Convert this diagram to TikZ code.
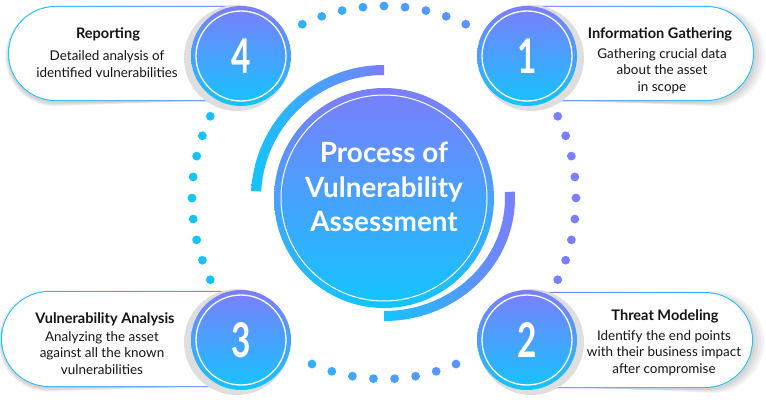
\documentclass[tikz,border=0pt]{standalone}
\usepackage{fontspec}
\setmainfont{Lato}
\usepackage{graphicx}
\usepackage{tikz}
\usetikzlibrary{positioning}

\definecolor{vpurple}{HTML}{7C7EFD}
\definecolor{vcyan}{HTML}{12C5FD}
\definecolor{txtdark}{HTML}{141414}

% pill rounded on the west side: left x, mid y, right x, half height
\newcommand{\pillW}[4]{(#3,{#2+#4}) -- ({#1+#4},{#2+#4}) arc (90:270:#4) -- (#3,{#2-#4}) -- cycle}
% pill rounded on the east side: left x, mid y, right x, half height
\newcommand{\pillE}[4]{(#1,{#2+#4}) -- ({#3-#4},{#2+#4}) arc (90:-90:#4) -- (#1,{#2-#4}) -- cycle}

\tikzset{
  numdisc/.style={circle,minimum size=100bp,inner sep=0pt,top color=vpurple,bottom color=vcyan,
    text=white,font=\bfseries\fontsize{48}{48}\selectfont},
  coredisc/.style={circle,minimum size=220bp,inner sep=0pt,top color=vpurple,bottom color=vcyan},
  ring/.style={draw=white,line width=1.3bp},
  discshadow/.style={fill=black!13},
  pillshadow/.style={fill=black,opacity=0.045},
  ttl/.style={text=txtdark,font=\bfseries\fontsize{14.6}{17}\selectfont},
  dsc/.style={text=txtdark,align=center,font=\fontsize{13.5}{16.5}\selectfont},
  coretxt/.style={align=center,font=\bfseries\fontsize{28}{34.5}\selectfont}
}

\begin{document}
\begin{tikzpicture}[x=1bp,y=1bp]
\useasboundingbox (0,0) rectangle (766,403);
\fill[white] (0,0) rectangle (766,403);

% pills
\foreach \s in {1,...,4}{
  \fill[pillshadow] \pillW{9-\s}{347}{241}{46.5+\s};
  \fill[pillshadow] \pillE{527}{347}{753+\s}{46.5+\s};
  \fill[pillshadow] \pillW{2-\s}{62}{241}{47+\s};
  \fill[pillshadow] \pillE{527}{61}{752+\s}{47+\s};
}
\shade[left color=vcyan,right color=vpurple] \pillW{8}{349.5}{241}{47.5};
\fill[white] \pillW{9}{349.5}{241}{46.5};
\shade[left color=vpurple,right color=vcyan] \pillE{527}{349.5}{754}{47.5};
\fill[white] \pillE{527}{349.5}{753}{46.5};
\shade[left color=vcyan,right color=vpurple] \pillW{1}{64}{241}{48};
\fill[white] \pillW{2}{64}{241}{47};
\shade[left color=vpurple,right color=vcyan] \pillE{527}{63}{753}{48};
\fill[white] \pillE{527}{63}{752}{47};

% dotted ring
\foreach \c in {0,90,180}{
  \foreach \k in {-4,...,4}{
    \pgfmathsetmacro\a{\c+6.3*\k}
    \pgfmathsetmacro\dx{384+192*cos(\a)}
    \pgfmathsetmacro\dy{205+192*sin(\a)}
    \pgfmathtruncatemacro\p{max(0,min(100,(575-\dx)/3.84))}
    \fill[vcyan!\p!vpurple] (\dx,\dy) circle (4.4);
  }
}
\foreach \k in {0,...,7}{
  \pgfmathsetmacro\a{270+6.7*(\k-3.5)}
  \pgfmathsetmacro\dx{384+181*cos(\a)}
  \pgfmathsetmacro\dy{205+181*sin(\a)}
  \pgfmathtruncatemacro\p{max(0,min(100,(575-\dx)/3.84))}
  \fill[vcyan!\p!vpurple] (\dx,\dy) circle (4.4);
}

% arcs round the core
\shade[left color=vcyan,right color=vpurple] (384,338) arc (90:177:133) -- ++(177:-10) arc (177:90:123) -- cycle;
\shade[left color=vcyan,right color=vpurple] (384,82) arc[start angle=-90,end angle=3,x radius=131,y radius=123]
  -- ++(3:-10) arc[start angle=3,end angle=-90,x radius=121,y radius=113] -- cycle;

% core
\node[coredisc] (core) at (384,205) {};
\draw[ring,line width=1bp] (core.center) circle (103);
\node[coretxt,text=white] (corettl) at (384,216) {Process of\\Vulnerability\\Assessment};

% numbered discs
\fill[discshadow] (237,345) circle (53);
\fill[discshadow] (531,345) circle (53);
\fill[discshadow] (237,61) circle (53);
\fill[discshadow] (531,61) circle (53);
\node[numdisc] (n4) at (241,347) {\scalebox{0.7}[1]{4}};
\node[numdisc] (n1) at (527,347) {\scalebox{0.7}[1]{1}};
\node[numdisc] (n3) at (241,63) {\scalebox{0.7}[1]{3}};
\node[numdisc] (n2) at (527,63) {\scalebox{0.7}[1]{2}};
\draw[ring] (n4.center) circle (45);
\draw[ring] (n1.center) circle (45);
\draw[ring] (n3.center) circle (45);
\draw[ring] (n2.center) circle (45);

% texts
\node[ttl] (ttl4) at (108,369) {Reporting};
\node[dsc] (dsc4) at (107,339) {Detailed analysis of\\identified vulnerabilities};
\node[ttl] (ttl1) at (660,369) {Information Gathering};
\node[dsc] (dsc1) at (662,332) {Gathering crucial data\\about the asset\\in scope};
\node[ttl] (ttl3) at (105,84) {Vulnerability Analysis};
\node[dsc] (dsc3) at (102,50) {Analyzing the asset\\against all the known\\vulnerabilities};
\node[ttl] (ttl2) at (665,87) {Threat Modeling};
\node[dsc] (dsc2) at (664,50) {Identify the end points\\with their business impact\\after compromise};
\end{tikzpicture}
\end{document}
